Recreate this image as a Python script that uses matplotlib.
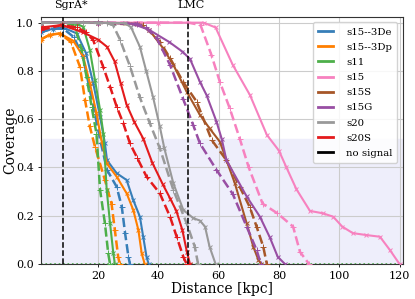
import numpy as np
import matplotlib
matplotlib.use("Agg")
import matplotlib.pyplot as plt
from matplotlib.lines import Line2D

plt.rcParams['font.family'] = 'DejaVu Serif'

# distance [kpc] / coverage pairs, solid ("x") and dashed ("+") runs
s15_3De_x = [1, 5, 8.5, 13, 16, 18.4, 20.7, 22.3, 23, 26.2, 29.5, 31.7, 33.9, 35, 36.1, 36.8]
s15_3De_y = [0.96, 0.975, 0.98, 0.955, 0.875, 0.75, 0.61, 0.50, 0.43, 0.376, 0.348, 0.265, 0.196, 0.113, 0.03, 0.0]
s15_3De_dx = [1, 5, 8.5, 12, 15, 17, 19, 21, 23, 26.2, 27.9, 29, 30.1, 30.6]
s15_3De_dy = [0.96, 0.975, 0.975, 0.94, 0.86, 0.74, 0.62, 0.50, 0.39, 0.32, 0.237, 0.127, 0.03, 0.0]

s15_3Dp_x = [1, 4, 7.4, 11.8, 15.1, 17.3, 19.5, 21.2, 22.9, 26.2, 29.5, 31.7, 33.4, 34.5, 35.5]
s15_3Dp_y = [0.93, 0.95, 0.955, 0.925, 0.86, 0.75, 0.625, 0.51, 0.417, 0.362, 0.293, 0.224, 0.141, 0.044, 0.0]
s15_3Dp_dx = [1, 4, 7.4, 11, 14, 15.7, 17.3, 19, 22.3, 24.5, 25.6, 26.7, 27.2]
s15_3Dp_dy = [0.93, 0.95, 0.955, 0.92, 0.818, 0.68, 0.57, 0.486, 0.348, 0.25, 0.141, 0.03, 0.0]

s11_x = [1, 8, 13, 15.1, 17.3, 19, 20.7, 21.8, 22.9, 24, 25.1, 25.6]
s11_y = [1.0, 1.0, 0.995, 0.983, 0.887, 0.763, 0.638, 0.54, 0.307, 0.169, 0.044, 0.0]
s11_dx = [1, 8, 11, 12.4, 14.6, 16.2, 17.9, 19.5, 20.7, 22.3, 23.4, 24]
s11_dy = [1.0, 1.0, 0.995, 0.98, 0.887, 0.776, 0.652, 0.54, 0.307, 0.169, 0.044, 0.0]

s15_x = [1, 20, 40, 55, 59, 64.7, 70.4, 76, 80, 82.5, 85.8, 90.3, 94.6, 98, 101, 104.5, 109, 113.5, 116.8, 120]
s15_y = [1.0, 1.0, 1.0, 1.0, 0.98, 0.825, 0.70, 0.535, 0.47, 0.40, 0.31, 0.22, 0.21, 0.196, 0.155, 0.128, 0.12, 0.113, 0.058, 0.0]
s15_dx = [1, 20, 40, 50, 54, 57.6, 60.4, 63.7, 67, 70, 74.6, 79.5, 84.7, 87, 90]
s15_dy = [1.0, 1.0, 1.0, 1.0, 0.99, 0.867, 0.755, 0.645, 0.52, 0.40, 0.25, 0.21, 0.155, 0.05, 0.0]

s15S_x = [1, 20, 33, 37, 41.6, 45, 49.4, 53.8, 57, 60.4, 65.4, 69.3, 71.5, 73.2, 74.2]
s15S_y = [1.0, 1.0, 0.995, 0.97, 0.894, 0.825, 0.714, 0.618, 0.562, 0.507, 0.334, 0.169, 0.072, 0.017, 0.0]
s15S_dx = [1, 20, 35, 40.6, 43.9, 48.2, 52.7, 57.7, 62.6, 67, 70.3, 72.6, 74.8, 76]
s15S_dy = [1.0, 1.0, 0.99, 0.92, 0.853, 0.755, 0.673, 0.514, 0.43, 0.32, 0.237, 0.155, 0.072, 0.0]

s15G_x = [1, 20, 31.6, 37, 43.6, 48, 50.5, 53.8, 56, 59.3, 61, 62.6, 69.3, 73.7, 77, 79.6, 82]
s15G_y = [1.0, 1.0, 0.995, 0.97, 0.92, 0.88, 0.85, 0.755, 0.70, 0.59, 0.52, 0.43, 0.28, 0.196, 0.11, 0.03, 0.0]
s15G_dx = [1, 20, 33, 36, 39.5, 43.9, 48.2, 51.6, 53.8, 59.3, 64.7, 69.3, 72.6, 74]
s15G_dy = [1.0, 1.0, 0.995, 0.98, 0.935, 0.825, 0.685, 0.575, 0.50, 0.39, 0.29, 0.155, 0.058, 0.0]

s20_x = [1, 20, 29, 31, 33.9, 36, 38.3, 40.5, 42, 45, 48.3, 51.6, 53.8, 55.5, 57, 59]
s20_y = [1.0, 1.0, 0.998, 0.98, 0.90, 0.80, 0.69, 0.57, 0.48, 0.334, 0.224, 0.19, 0.18, 0.155, 0.072, 0.0]
s20_dx = [1, 15, 23, 25, 27.3, 30.6, 33.9, 37.2, 40.5, 45, 49.4, 52.1, 53.2]
s20_dy = [1.0, 1.0, 0.998, 0.99, 0.93, 0.82, 0.69, 0.583, 0.48, 0.307, 0.169, 0.072, 0.0]

s20S_x = [1, 8, 15, 20, 23, 25.5, 27.5, 29.5, 32, 35, 38, 41.5, 44, 46, 48, 49.5, 50.5]
s20S_y = [0.98, 0.99, 0.96, 0.93, 0.90, 0.84, 0.75, 0.66, 0.59, 0.52, 0.42, 0.33, 0.27, 0.22, 0.14, 0.05, 0.0]
s20S_dx = [1, 8, 13, 16, 18.4, 21.7, 24, 26.2, 28.4, 30.6, 33, 36.1, 40.5, 43.9, 46.1, 48.3, 49.4]
s20S_dy = [0.97, 0.99, 0.98, 0.96, 0.928, 0.818, 0.735, 0.652, 0.583, 0.50, 0.44, 0.362, 0.293, 0.196, 0.113, 0.03, 0.0]

models = ['s15--3De', 's15--3Dp', 's11', 's15', 's15S', 's15G', 's20', 's20S']
colors = ['#377eb8', '#ff7f00', '#4daf4a', '#f781bf', '#a65628', '#984ea3', '#999999', '#e41a1c']
solid = [(s15_3De_x, s15_3De_y), (s15_3Dp_x, s15_3Dp_y), (s11_x, s11_y), (s15_x, s15_y),
         (s15S_x, s15S_y), (s15G_x, s15G_y), (s20_x, s20_y), (s20S_x, s20S_y)]
dashed = [(s15_3De_dx, s15_3De_dy), (s15_3Dp_dx, s15_3Dp_dy), (s11_dx, s11_dy), (s15_dx, s15_dy),
          (s15S_dx, s15S_dy), (s15G_dx, s15G_dy), (s20_dx, s20_dy), (s20S_dx, s20S_dy)]

sgra_dist = 8.3
lmc_dist = 50
shade_top = 0.52

fig = plt.figure(figsize=(4.15, 2.99), dpi=100)
ax = fig.add_axes([0.098, 0.117, 0.872, 0.825])

ax.axhspan(0, shade_top, color='#eeeefb', zorder=0)
ax.grid(True, color='#cccccc', lw=0.8, zorder=1)

handles = []
for name, c, (x, y), (dx, dy) in zip(models, colors, solid, dashed):
    ax.plot(x, y, color=c, lw=1.5, marker='x', ms=3.5, mew=0.7, zorder=3)
    ax.plot(dx, dy, color=c, lw=1.8, ls='--', marker='+', ms=4, mew=0.7, zorder=3)
    handles.append(Line2D([], [], color=c, lw=2, label=name))
handles.append(Line2D([], [], color='black', lw=2, label='no signal'))
# zero level past the end of each curve
ax.plot([1, 121], [0, 0], color='#4daf4a', lw=1.2, ls=':', zorder=2)

ax.axvline(sgra_dist, color='black', ls='--', lw=1.1, zorder=4)
ax.axvline(lmc_dist, color='black', ls='--', lw=1.1, zorder=4)
ax.text(sgra_dist + 2.7, 1.03, 'SgrA*', ha='center', va='bottom', fontsize=8,
        transform=ax.get_xaxis_transform())
ax.text(lmc_dist + 1, 1.03, 'LMC', ha='center', va='bottom', fontsize=8,
        transform=ax.get_xaxis_transform())

ax.set_xlim(1, 121)
ax.set_ylim(0, 1.022)
ax.set_xticks([20, 40, 60, 80, 100, 120])
ax.set_yticks([0.0, 0.2, 0.4, 0.6, 0.8, 1.0])
ax.tick_params(labelsize=8, length=2.5, width=0.6, pad=2.5)
ax.set_xlabel('Distance [kpc]', fontsize=10, labelpad=1)
ax.set_ylabel('Coverage', fontsize=10)
ax.yaxis.set_label_coords(-0.066, 0.5)
for sp in ax.spines.values():
    sp.set_color('#333333')
    sp.set_linewidth(0.8)

ax.legend(handles=handles, loc='upper right', fontsize=7.3, handlelength=1.5,
          labelspacing=0.6, borderpad=0.5, handletextpad=1.3, framealpha=0.85)

fig.savefig('out.png', dpi=100)
